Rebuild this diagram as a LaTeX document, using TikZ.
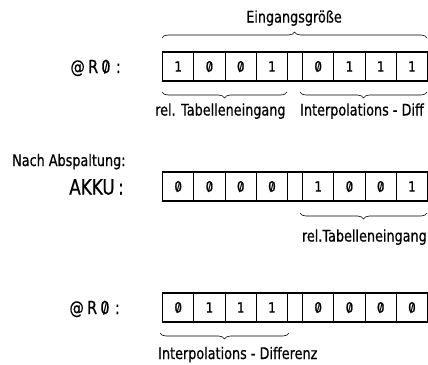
\documentclass[tikz,border=0pt]{standalone}
\usepackage{fontspec}
\setmainfont[FakeStretch=0.8,FakeBold=0.6]{DejaVu Sans}
\newfontfamily\digfont[FakeStretch=0.85,FakeBold=1.2]{DejaVu Sans}
\usetikzlibrary{decorations.pathreplacing}
\newcommand{\sz}{\ooalign{0\cr\hidewidth\raisebox{0.04em}{\scalebox{0.8}[0.82]{/}}\hidewidth\cr}}
\newcommand{\atrz}{@\kern0.18em R\kern0.18em\sz\kern0.3em:}
\begin{document}
\begin{tikzpicture}[x=1pt,y=-1pt,
  cell/.style={draw, line width=1.2pt, minimum width=31.25pt, minimum height=29pt,
               inner sep=0pt, anchor=west, font=\digfont\fontsize{14}{16}\selectfont},
  gapcell/.style={cell, minimum width=15pt},
  brc/.style={decorate, decoration={brace, amplitude=6pt}, line width=0.6pt},
  lbl/.style={font=\fontsize{16}{19}\selectfont, inner sep=0pt},
  reg/.style={font=\fontsize{18}{21}\selectfont, inner sep=0pt},
  big/.style={font=\fontsize{21}{24}\selectfont, inner sep=0pt}]
\useasboundingbox (0,0) rectangle (428,364);

% ---- row 1 : @R0 ----
\foreach \d [count=\i from 0] in {1,{\sz},{\sz},1}
  \node[cell] (a\i) at (162+\i*31.25,66.5) {\d};
\node[gapcell] (ag) at (287,66.5) {};
\foreach \d [count=\i from 0] in {{\sz},1,1,1}
  \node[cell] (b\i) at (302+\i*31.25,66.5) {\d};

\node[reg, anchor=base east] (r0a) at (121,73) {\atrz};
\draw[brc] (162,38) -- (427,38);
\node[lbl, anchor=base] (eing) at (294,22.5) {Eingangsgröße};
\draw[brc] (287,92) -- (162,92);
\draw[brc] (427,92) -- (300,92);
\node[lbl, anchor=base west] (rt1) at (155,115.5) {rel. Tabelleneingang};
\node[lbl, anchor=base west] (ip1) at (300,115.5) {Interpolations - Diff};

% ---- row 2 : AKKU ----
\node[lbl, anchor=base west] (nach) at (12,166) {Nach Abspaltung:};
\node[big, anchor=base east] (akku) at (124,194.5) {AKKU\,:};
\foreach \d [count=\i from 0] in {{\sz},{\sz},{\sz},{\sz}}
  \node[cell] (c\i) at (162+\i*31.25,186.5) {\d};
\node[gapcell] (cg) at (287,186.5) {};
\foreach \d [count=\i from 0] in {1,{\sz},{\sz},1}
  \node[cell] (d\i) at (302+\i*31.25,186.5) {\d};
\draw[brc] (427,213) -- (300,213);
\node[lbl, anchor=base east] (rt2) at (427,241.5) {rel.Tabelleneingang};

% ---- row 3 : @R0 ----
\node[reg, anchor=base east] (r0b) at (120,314) {\atrz};
\foreach \d [count=\i from 0] in {{\sz},1,1,1}
  \node[cell] (e\i) at (162+\i*31.25,307.5) {\d};
\node[gapcell] (eg) at (287,307.5) {};
\foreach \d [count=\i from 0] in {{\sz},{\sz},{\sz},{\sz}}
  \node[cell] (f\i) at (302+\i*31.25,307.5) {\d};
\draw[brc] (289,333) -- (160,333);
\node[lbl, anchor=base west] (ip3) at (158,359) {Interpolations - Differenz};
\end{tikzpicture}
\end{document}
